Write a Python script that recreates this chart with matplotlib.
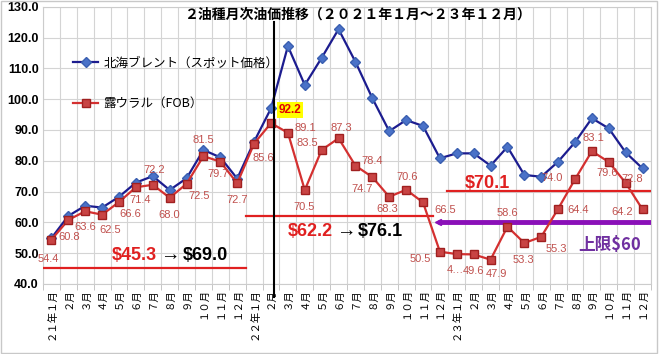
import matplotlib.pyplot as plt
from matplotlib.patches import Rectangle

plt.rcParams['font.family'] = ['Liberation Sans', 'Noto Sans CJK JP', 'DejaVu Sans']

FW = str.maketrans("0123456789", "０１２３４５６７８９")

# 2021-01 .. 2023-12
months = []
for yy in (21, 22, 23):
    for m in range(1, 13):
        months.append((f"{yy}年{m}月" if m == 1 else f"{m}月").translate(FW))

brent = [54.9, 62.1, 65.4, 64.8, 68.3, 72.9, 75.0, 70.5, 74.3, 83.5, 81.1, 74.2,
         86.2, 97.0, 117.2, 104.6, 113.4, 122.7, 112.1, 100.3, 89.6, 93.2, 91.3, 80.8,
         82.4, 82.4, 78.4, 84.5, 75.4, 74.8, 79.7, 86.0, 93.8, 90.5, 82.7, 77.5]
urals = [54.4, 60.8, 63.6, 62.5, 66.6, 71.4, 72.2, 68.0, 72.5, 81.5, 79.7, 72.7,
         85.6, 92.2, 89.1, 70.5, 83.5, 87.3, 78.4, 74.7, 68.3, 70.6, 66.5, 50.5,
         49.7, 49.6, 47.9, 58.6, 53.3, 55.3, 64.4, 74.0, 83.1, 79.6, 72.8, 64.2]
urals_text = [f"{v:.1f}" for v in urals]
urals_text[24] = "4…"   # truncated in the original
highlight = 13          # 2022-02

# averages per period: (start, end, value)
averages = [(-0.5, 11.5, 45.3), (11.5, 22.6, 62.2), (23.4, 35.5, 70.1)]
price_cap = 60
cap_span = (22.9, 35.5)

# label offsets in pixels for each urals point
offsets = [(-3, -19), (1, -17), (0, -16), (8, -15), (11, -12), (4, -13), (1, 15), (0, -17),
           (13, -12), (0, 16), (-2, -12), (0, -17),
           (9, -14), (19, 13), (17, 5), (-1, -17), (-14, 7), (3, 10), (17, 5), (-10, -12),
           (-2, -12), (1, 13), (22, -8), (-20, -7),
           (-1, -16), (0, -17), (6, -14), (0, 14), (-1, -17), (15, -12), (20, -1), (-23, 1),
           (1, 13), (-2, -11), (7, 4), (-20, -3)]

fig = plt.figure(figsize=(6.6, 3.54), dpi=100)
ax = fig.add_axes([43 / 660, 1 - 284 / 354, 608 / 660, 277.3 / 354])
x = list(range(len(months)))

ax.plot(x, brent, color='#1c1c8f', lw=1.6, marker='D', ms=5.5, mfc='#4a72c8', mec='#3a5fb0',
        label='北海ブレント（スポット価格）', zorder=4)
ax.plot(x, urals, color='#d43030', lw=1.6, marker='s', ms=6, mfc='#c84444', mec='#a02020',
        label='露ウラル（FOB）', zorder=5)

for i, (v, t, (dx, dy)) in enumerate(zip(urals, urals_text, offsets)):
    if i == highlight:
        ax.annotate(t, (i, v), xytext=(dx, dy), textcoords='offset pixels', ha='center', va='center',
                    fontsize=8.5, fontweight='bold', color='#e00000', zorder=7,
                    bbox=dict(boxstyle='square,pad=0.15', fc='#ffff00', ec='none'))
    else:
        ax.annotate(t, (i, v), xytext=(dx, dy), textcoords='offset pixels', ha='center', va='center',
                    fontsize=8, color='#c0504d', zorder=6)

for x0, x1, v in averages:
    ax.plot([x0, x1], [v, v], color='#e02020', lw=1.6, zorder=3)
ax.plot(cap_span, [price_cap, price_cap], color='#8a10b8', lw=3.5, zorder=3, solid_capstyle='butt')
ax.plot([cap_span[0]], [price_cap], marker='<', color='#8a10b8', ms=5, zorder=3)

ax.plot([13.2, 13.2], [35.7, 125], color='black', lw=1.5, clip_on=False, zorder=6)


def chain(px, py, parts):
    s, c, w, fs = parts[0]
    t = ax.text(px, py, s, color=c, fontsize=fs, fontweight=w, va='center', ha='left', zorder=8)
    for s, c, w, fs in parts[1:]:
        t = ax.annotate(s, xy=(1, 0.5), xycoords=t, xytext=(2, 0), textcoords='offset points',
                        color=c, fontsize=fs, fontweight=w, va='center', ha='left', zorder=8)


chain(3.6, 49.1, [("$45.3", '#e02020', 'bold', 13), ("→", 'black', 'normal', 14),
                  ("$69.0", 'black', 'bold', 13)])
chain(14.0, 56.9, [("$62.2", '#e02020', 'bold', 13), ("→", 'black', 'normal', 14),
                   ("$76.1", 'black', 'bold', 13)])
chain(24.5, 72.7, [("$70.1", '#e02020', 'bold', 13)])
ax.text(31.2, 52.6, "上限$60", color='#7030a0', fontsize=12, fontweight='bold', va='center', ha='left',
        family=['Noto Sans CJK JP', 'Liberation Sans'])

ax.set_xlim(-0.5, 35.5)
ax.set_ylim(40, 130)
ax.set_yticks(range(40, 131, 10))
ax.set_yticklabels([f"{v:.1f}" for v in range(40, 131, 10)], fontsize=9, fontweight='bold')
ax.set_xticks(x)
ax.set_xticklabels(months, rotation=90, fontsize=7.5, family=['Noto Sans CJK JP'])
ax.set_xticks([i - 0.5 for i in range(len(months) + 1)], minor=True)
ax.tick_params(axis='both', which='major', length=0, pad=3)
ax.tick_params(axis='x', which='minor', length=4, color='#bbbbbb')
ax.grid(True, which='minor', axis='x', color='#d4d4d4', lw=0.8)
ax.grid(True, which='major', axis='y', color='#d4d4d4', lw=0.8)
ax.set_axisbelow(True)
for sp in ax.spines.values():
    sp.set_color('#cccccc')

ax.legend(loc='upper left', bbox_to_anchor=(0.05, 0.82), frameon=False,
          handlelength=2.0, handletextpad=0.4, labelspacing=2.2, borderaxespad=0, borderpad=0,
          prop={'family': ['Noto Sans CJK JP'], 'size': 9})

fig.text(0.541, 0.96, "2油種月次油価推移（2021年1月～23年12月）".translate(FW), ha='center', va='center',
         fontsize=10, fontweight='bold', family=['Noto Sans CJK JP'])
fig.patches.append(Rectangle((0.002, 0.004), 0.994, 0.993, transform=fig.transFigure, fill=False,
                             edgecolor='#c8c8c8', lw=1))

fig.savefig('out.png', dpi=100)
